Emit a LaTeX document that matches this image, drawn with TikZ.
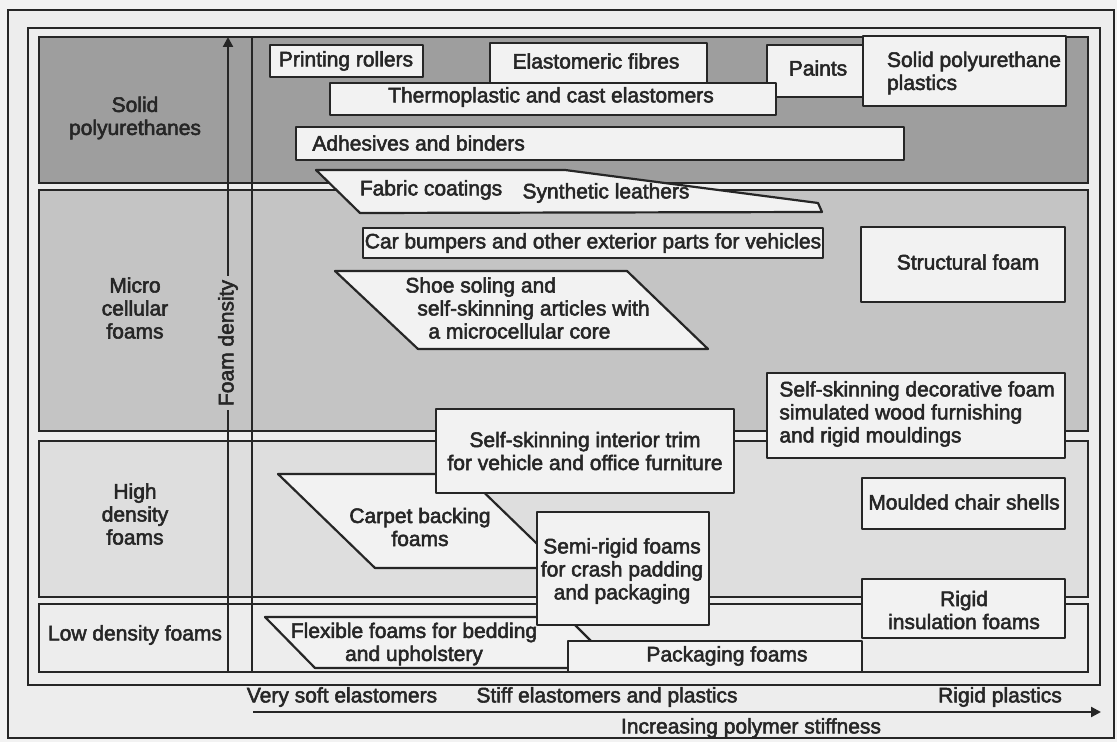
\documentclass[tikz,border=0pt]{standalone}
\usepackage{fontspec}
\setmainfont{Liberation Sans}[BoldFont={Liberation Sans}, BoldFeatures={FakeBold=2.5}]
\usepackage{xcolor}
\usetikzlibrary{arrows.meta, positioning}

\definecolor{pagegray}{gray}{0.95}
\definecolor{solidgray}{gray}{0.62}
\definecolor{microgray}{gray}{0.77}
\definecolor{highgray}{gray}{0.87}
\definecolor{lowgray}{gray}{0.93}
\definecolor{boxgray}{gray}{0.95}
\definecolor{inkgray}{gray}{0.15}

\begin{document}
\begin{tikzpicture}[
    x=0.5pt, y=-0.5pt,
    frame/.style={draw=inkgray, line width=1.1pt},
    band/.style={draw=inkgray, line width=1.1pt},
    item/.style={draw=inkgray, line width=1.1pt, fill=boxgray, line join=round},
    txt/.style={inner sep=0pt, align=center, text=inkgray, font=\fontsize{10.5}{11.5}\selectfont\bfseries},
    axis/.style={-{Triangle[length=5pt, width=5pt]}, line width=1.1pt, inkgray}
]
\useasboundingbox (0,0) rectangle (1117,742);
\fill[pagegray] (0,0) rectangle (1117,742);

% frames
\draw[frame, fill=lowgray] (8,10) rectangle (1114,738);
\draw[frame] (28,28) rectangle (1100,685);

% density bands
\draw[band, fill=solidgray] (39,37) rectangle (1088,183);
\draw[band, fill=microgray] (39,190) rectangle (1088,431);
\draw[band, fill=highgray] (39,441) rectangle (1088,597);
\draw[band, fill=lowgray] (39,604) rectangle (1088,672);
\draw[band] (252,37) -- (252,672);

% vertical axis
\coordinate (ybot) at (228,672);
\coordinate (ytop) at (228,37);
\draw[axis] (ybot) -- (ytop);
\node[txt, rotate=90, fill=microgray, inner sep=2pt] (density) at (228,343) {Foam density};

\node[txt] (solid) at (135,118) {Solid\\polyurethanes};
\node[txt] (micro) at (135,308) {Micro\\cellular\\foams};
\node[txt] (high) at (135,514) {High\\density\\foams};
\node[txt] (low) at (135,635) {Low density foams};

% solid polyurethanes
\draw[item] (316,170) -- (565,170) -- (818,203) -- (822,212) -- (360,213) -- cycle;
\node[txt] (fabric) at (431,190) {Fabric coatings};
\node[txt] (leather) at (606,193) {Synthetic leathers};
\draw[item] (270,45) rectangle (423,77);
\node[txt] (rollers) at (346,61) {Printing rollers};
\draw[item] (490,43) rectangle (707,84);
\node[txt] (fibres) at (596,61) {Elastomeric fibres};
\draw[item] (767,45) rectangle (863,97);
\node[txt] (paints) at (818,68) {Paints};
\draw[item] (863,36) rectangle (1066,106);
\node[txt, align=left] (spuplastics) at (974,73) {Solid polyurethane\\plastics};
\draw[item] (330,83) rectangle (776,115);
\node[txt] (thermo) at (551,97) {Thermoplastic and cast elastomers};
\draw[item] (296,127) rectangle (904,160);
\node[txt, anchor=west] (adhesives) at (312,143) {Adhesives and binders};

% microcellular foams
\draw[item] (363,228) rectangle (823,258);
\node[txt] (bumpers) at (593,243) {Car bumpers and other exterior parts for vehicles};
\draw[item] (335,271) -- (627,271) -- (708,349) -- (418,349) -- cycle;
\node[txt, align=left, anchor=west] (shoe) at (405,308) {Shoe soling and\\\hspace*{6pt}self-skinning articles with\\\hspace*{11.5pt}a microcellular core};
\draw[item] (861,227) rectangle (1065,302);
\node[txt] (structural) at (968,262) {Structural foam};

% high density foams
\draw[item] (278,474) -- (465,474) -- (562,568) -- (375,568) -- cycle;
\node[txt] (carpet) at (420,527) {Carpet backing\\foams};
\draw[item] (436,409) rectangle (734,493);
\node[txt] (trim) at (585,451) {Self-skinning interior trim\\for vehicle and office furniture};
\draw[item] (767,373) rectangle (1065,458);
\node[txt, align=left, anchor=west] (decorative) at (779,414) {Self-skinning decorative foam\\simulated wood furnishing\\and rigid mouldings};
\draw[item] (862,478) rectangle (1065,529);
\node[txt] (chair) at (964,502) {Moulded chair shells};

% low density foams
\draw[item] (265,617) -- (567,617) -- (618,668) -- (315,668) -- cycle;
\node[txt] (flexible) at (414,644) {Flexible foams for bedding\\and upholstery};
\draw[item] (537,512) rectangle (709,625);
\node[txt] (semirigid) at (622,571) {Semi-rigid foams\\for crash padding\\and packaging};
\draw[item] (568,641) rectangle (862,672);
\node[txt] (packaging) at (727,656) {Packaging foams};
\draw[item] (862,579) rectangle (1065,638);
\node[txt] (insulation) at (964,610) {Rigid\\insulation foams};

% stiffness axis
\node[txt] (softel) at (342,697) {Very soft elastomers};
\node[txt] (stiffel) at (607,697) {Stiff elastomers and plastics};
\node[txt] (rigidpl) at (1000,697) {Rigid plastics};
\coordinate (xleft) at (253,712);
\coordinate (xright) at (1101,712);
\draw[axis] (xleft) -- (xright);
\node[txt] (stiffness) at (751,728) {Increasing polymer stiffness};

\end{tikzpicture}
\end{document}
